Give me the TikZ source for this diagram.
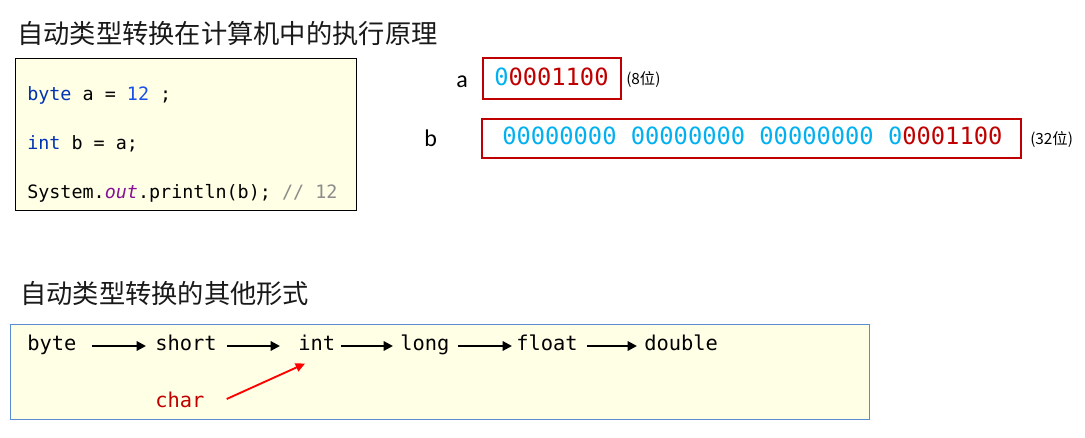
\documentclass[tikz,border=0pt]{standalone}
\usepackage{fontspec}
\usetikzlibrary{arrows.meta,calc}
\newfontfamily\cjk{Noto Sans CJK SC}
\newfontfamily\mono{DejaVu Sans Mono}
\newfontfamily\lbl{Carlito}
\definecolor{paper}{HTML}{FFFFE6}
\definecolor{kw}{HTML}{0033B3}
\definecolor{num}{HTML}{1750EB}
\definecolor{fld}{HTML}{871094}
\definecolor{cmt}{HTML}{8C8C8C}
\definecolor{dred}{HTML}{C00000}
\definecolor{lblue}{HTML}{00B0F0}
\definecolor{bblue}{HTML}{5B8BD0}
\tikzset{
  title/.style={anchor=west,inner sep=0pt,font=\cjk\fontsize{19.7pt}{22pt}\selectfont,text=black!90},
  code/.style={anchor=base west,inner sep=0pt,font=\mono\fontsize{13.8pt}{16pt}\selectfont},
  bits/.style={anchor=base west,inner sep=0pt,font=\mono\fontsize{17.8pt}{20pt}\selectfont},
  varlbl/.style={anchor=base west,inner sep=0pt,font=\lbl\fontsize{18pt}{20pt}\selectfont},
  note/.style={anchor=base west,inner sep=0pt,font=\cjk\fontsize{11.5pt}{13pt}\selectfont},
  row/.style={anchor=base west,inner sep=0pt,text height=10pt,text depth=4pt,font=\mono\fontsize{15.3pt}{18pt}\selectfont},
  regbox/.style={draw=dred,line width=1.5pt},
  arr/.style={-{Triangle[length=7pt,width=7pt]},line width=1.6pt,black},
  redarr/.style={-{Triangle[length=7pt,width=6.5pt]},line width=1.4pt,red},
}
\begin{document}
\begin{tikzpicture}[x=0.75pt,y=-0.75pt]
\useasboundingbox[fill=white] (0,0) rectangle (1085,438);
% titles
\node[title] (t1) at (17,33) {自动类型转换在计算机中的执行原理};
\node[title] (t2) at (20,294) {自动类型转换的其他形式};
% code box
\node[draw=black,line width=0.9pt,fill=paper,minimum width=341*0.75pt,minimum height=152*0.75pt,anchor=north west,inner sep=0pt] (codebox) at (15,58) {};
\node[code] (l1) at (27,101) {\textcolor{kw}{byte} a = \textcolor{num}{12} ;};
\node[code] (l2) at (27,150) {\textcolor{kw}{int} b = a;};
\node[code] (l3) at (27,199) {System.\textcolor{fld}{\itshape out}.println(b); \textcolor{cmt}{// 12}};
% binary a
\node[varlbl] (va) at (456,88) {a};
\node[regbox,minimum width=138*0.75pt,minimum height=41*0.75pt,anchor=north west,inner sep=0pt] (boxa) at (482,57) {};
\node[bits] (ba) at (494,86) {\textcolor{lblue}{0}\textcolor{dred}{0001100}};
\node[note] (na) at (626,85) {(8位)};
% binary b
\node[varlbl] (vb) at (424,147) {b};
\node[regbox,minimum width=539*0.75pt,minimum height=39*0.75pt,anchor=north west,inner sep=0pt] (boxb) at (481,118) {};
\node[bits] (bb) at (502,145) {\textcolor{lblue}{00000000 00000000 00000000 0}\textcolor{dred}{0001100}};
\node[note] (nb) at (1030,145) {(32位)};
% conversion box
\node[draw=bblue,line width=0.9pt,fill=paper,minimum width=859*0.75pt,minimum height=95*0.75pt,anchor=north west,inner sep=0pt] (convbox) at (10,324) {};
\node[row] (byte) at (27,350) {byte};
\node[row] (short) at (155,350) {short};
\node[row] (int) at (298,350) {int};
\node[row] (long) at (400,350) {long};
\node[row] (float) at (516,350) {float};
\node[row] (double) at (644,350) {double};
\node[row,text=dred] (char) at (155,407) {char};
\draw[arr,shorten <=15*0.75pt,shorten >=9*0.75pt] (byte.east) -- (short.west);
\draw[arr,shorten <=10*0.75pt,shorten >=18*0.75pt] (short.east) -- (int.west);
\draw[arr,shorten <=6*0.75pt,shorten >=7*0.75pt] (int.east) -- (long.west);
\draw[arr,shorten <=8*0.75pt,shorten >=4*0.75pt] (long.east) -- (float.west);
\draw[arr,shorten <=9*0.75pt,shorten >=7*0.75pt] (float.east) -- (double.west);
\draw[redarr] ($(char.east)+(22,-4)$) -- ($(int.south west)+(7,8)$);
\end{tikzpicture}
\end{document}
